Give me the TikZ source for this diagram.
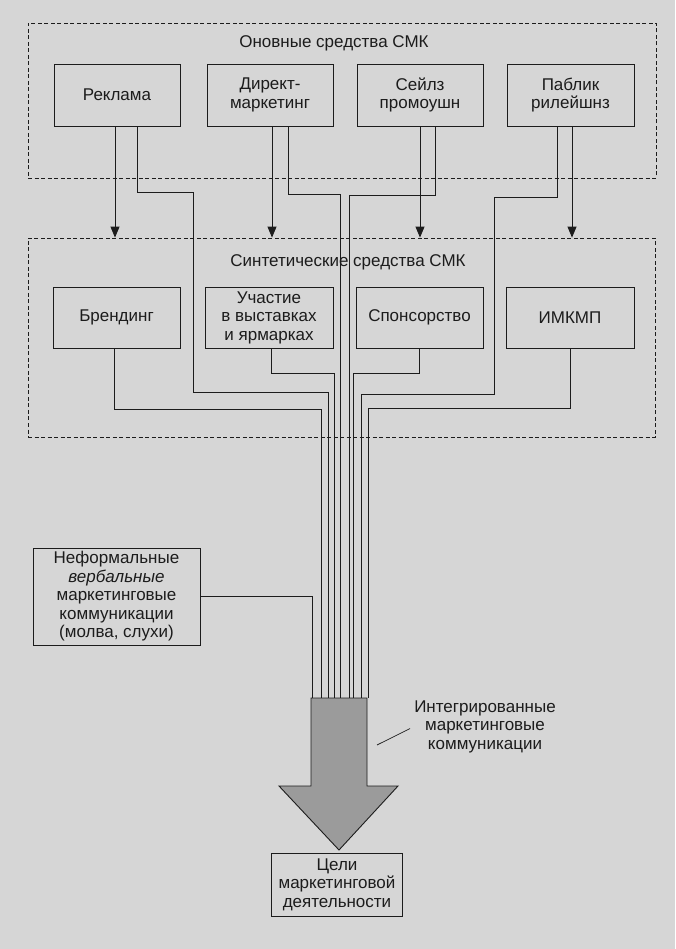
\documentclass[tikz,border=0pt]{standalone}
\usepackage{fontspec}
\setmainfont{Liberation Sans}
\usetikzlibrary{arrows.meta}
\definecolor{bg}{RGB}{214,214,214}
\definecolor{ink}{RGB}{28,28,28}
\definecolor{shaftfill}{RGB}{155,155,155}
\begin{document}
\begin{tikzpicture}[x=1pt,y=-1pt,
  every node/.style={font=\fontsize{17}{18.5}\selectfont, text=ink},
  box/.style={draw=ink, line width=0.9pt, align=center, inner sep=0pt},
  dbox/.style={draw=ink, line width=0.8pt, dash pattern=on 4pt off 2.5pt, inner sep=0pt},
  conn/.style={draw=ink, line width=0.9pt},
  arr/.style={conn, -{Triangle[length=11pt,width=9pt]}},
  lbl/.style={anchor=base, inner sep=0pt}
]
\fill[bg] (0,0) rectangle (675,949);
\useasboundingbox (0,0) rectangle (675,949);

% dashed groups
\node[dbox, minimum width=628pt, minimum height=155pt] (osn) at (342,100.5) {};
\node[dbox, minimum width=627pt, minimum height=199pt] (syn) at (341.5,337.5) {};
\node[lbl] (osnT) at (334,48) {Оновные средства СМК};
\node[lbl] (synT) at (348,267) {Синтетические средства СМК};

% row 1
\node[box, minimum width=126pt, minimum height=62pt] (rek) at (117,95) {Реклама};
\node[box, minimum width=126pt, minimum height=62pt] (dir) at (270,95) {Директ-\\маркетинг};
\node[box, minimum width=126pt, minimum height=62pt] (sales) at (420,95) {Сейлз\\промоушн};
\node[box, minimum width=127pt, minimum height=62pt] (pr) at (570.5,95) {Паблик\\рилейшнз};

% row 2
\node[box, minimum width=127pt, minimum height=61pt] (brand) at (116.5,317.5) {Брендинг};
\node[box, minimum width=128pt, minimum height=61pt] (expo) at (269,317.5) {Участие\\в выставках\\и ярмарках};
\node[box, minimum width=127pt, minimum height=61pt] (spon) at (419.5,317.5) {Спонсорство};
\node[box, minimum width=128pt, minimum height=61pt] (imk) at (570,317.5) {ИМКМП};

% informal
\node[box, minimum width=167pt, minimum height=97pt] (inf) at (116.5,596.5)
  {Неформальные\\\textit{вербальные}\\маркетинговые\\коммуникации\\(молва, слухи)};

% goal
\node[box, minimum width=131pt, minimum height=63pt] (goal) at (337,884.5)
  {Цели\\маркетинговой\\деятельности};

% bundle end points on the big arrow
\coordinate (e9) at (312,698);
\coordinate (e1) at (321,698);
\coordinate (e2) at (328,698);
\coordinate (e3) at (334,698);
\coordinate (e4) at (340,698);
\coordinate (e5) at (349,698);
\coordinate (e6) at (353,698);
\coordinate (e7) at (361,698);
\coordinate (e8) at (368,698);

% big arrow
\draw[draw=ink, fill=shaftfill, line width=0.9pt]
  (311,698) -- (367,698) -- (367,786) -- (398,786) -- (339,850) -- (279,786) -- (311,786) -- cycle;

% arrows from row 1 to synthetic group
\draw[arr] ([xshift=-2pt]rek.south) -- ([xshift=-2pt]rek.south |- syn.north);
\draw[arr] ([xshift=2pt]dir.south) -- ([xshift=2pt]dir.south |- syn.north);
\draw[arr] (sales.south) -- (sales.south |- syn.north);
\draw[arr] ([xshift=1.5pt]pr.south) -- ([xshift=1.5pt]pr.south |- syn.north);

% row 1 lines to bundle
\draw[conn] ([xshift=20pt]rek.south) |- (193,192) |- (328,392) -- (e2);
\draw[conn] ([xshift=18pt]dir.south) |- (340,194) -- (e4);
\draw[conn] ([xshift=15pt]sales.south) |- (349,195) -- (e5);
\draw[conn] ([xshift=-13.5pt]pr.south) |- (494,197) |- (361,394) -- (e7);

% row 2 lines to bundle
\draw[conn] ([xshift=-2.5pt]brand.south) |- (321,409) -- (e1);
\draw[conn] ([xshift=2pt]expo.south) |- (334,373) -- (e3);
\draw[conn] ([xshift=-0.5pt]spon.south) |- (353,373) -- (e6);
\draw[conn] (imk.south) |- (368,408) -- (e8);

% informal line
\draw[conn] (inf.east) -| (e9);

% label
\node[align=center, inner sep=0pt] (iml) at (485,726.5) {Интегрированные\\маркетинговые\\коммуникации};
\draw[conn, line width=0.7pt] ([xshift=-4pt,yshift=-2pt]iml.west) -- (377,745);
\end{tikzpicture}
\end{document}
